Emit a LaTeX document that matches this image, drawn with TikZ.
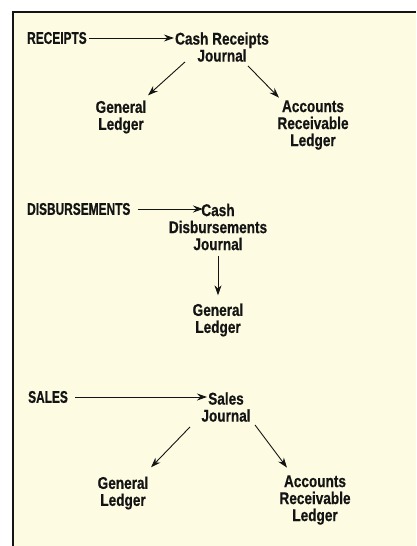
\documentclass[tikz,border=0pt]{standalone}
\usepackage{fontspec}
\setmainfont[FakeStretch=0.80,FakeBold=0.6]{Liberation Sans}
\newfontfamily\capsface[FakeStretch=0.70,FakeBold=0.6]{Liberation Sans}
\usetikzlibrary{arrows.meta,calc}
\definecolor{paper}{RGB}{253,252,226}
\definecolor{ink}{RGB}{20,20,20}
\begin{document}
\begin{tikzpicture}[x=1pt,y=-1pt,
  lbl/.style={font=\bfseries\fontsize{17}{17}\selectfont, align=center, inner sep=0pt, text=ink},
  src/.style={font=\capsface\bfseries\fontsize{17}{17}\selectfont, inner sep=0pt, text=ink, anchor=west},
  arr/.style={-{Stealth[length=10pt,width=7pt]}, line width=0.9pt, draw=ink}]
\useasboundingbox (0,0) rectangle (416,546);
\fill[paper] (13,12) rectangle (416,546);
\draw[line width=2pt, ink] (13,546) -- (13,12) -- (416,12);

% Receipts
\node[src] (rec) at (27,38) {RECEIPTS};
\node[lbl] (crj) at (222,47) {Cash Receipts\\Journal};
\node[lbl] (gl1) at (121,117) {General\\Ledger};
\node[lbl] (ar1) at (313,125) {Accounts\\Receivable\\Ledger};
\draw[arr] ([xshift=2pt]rec.east) -- ($(rec.east -| crj.west)+(-1,0)$);
\draw[arr] ([xshift=-37pt]crj.south) -- ([xshift=27pt,yshift=5pt]gl1.north);
\draw[arr] ([xshift=26pt,yshift=-4pt]crj.south) -- ([xshift=-34pt,yshift=2.5pt]ar1.north);

% Disbursements
\node[src] (dis) at (27,209) {DISBURSEMENTS};
\node[lbl] (cdj) at (218,227) {Cash\\Disbursements\\Journal};
\node[lbl] (gl2) at (218,320) {General\\Ledger};
\draw[arr] ([xshift=7pt]dis.east) -- ($(dis.east -| cdj.north)+(-15,0)$);
\draw[arr, shorten <=5.5pt, shorten >=8pt] (cdj.south) -- (gl2.north);

% Sales
\node[src] (sal) at (28,397) {SALES};
\node[lbl] (sj) at (226,407) {Sales\\Journal};
\node[lbl] (gl3) at (123,493) {General\\Ledger};
\node[lbl] (ar3) at (315,500) {Accounts\\Receivable\\Ledger};
\draw[arr] ([xshift=7pt]sal.east) -- ($(sal.east -| sj.north)+(-19,0)$);
\draw[arr] ([xshift=-36pt,yshift=-5pt]sj.south) -- ([xshift=28pt,yshift=9pt]gl3.north);
\draw[arr] ([xshift=29pt,yshift=-3pt]sj.south) -- ([xshift=-28pt,yshift=7.5pt]ar3.north);
\end{tikzpicture}
\end{document}
